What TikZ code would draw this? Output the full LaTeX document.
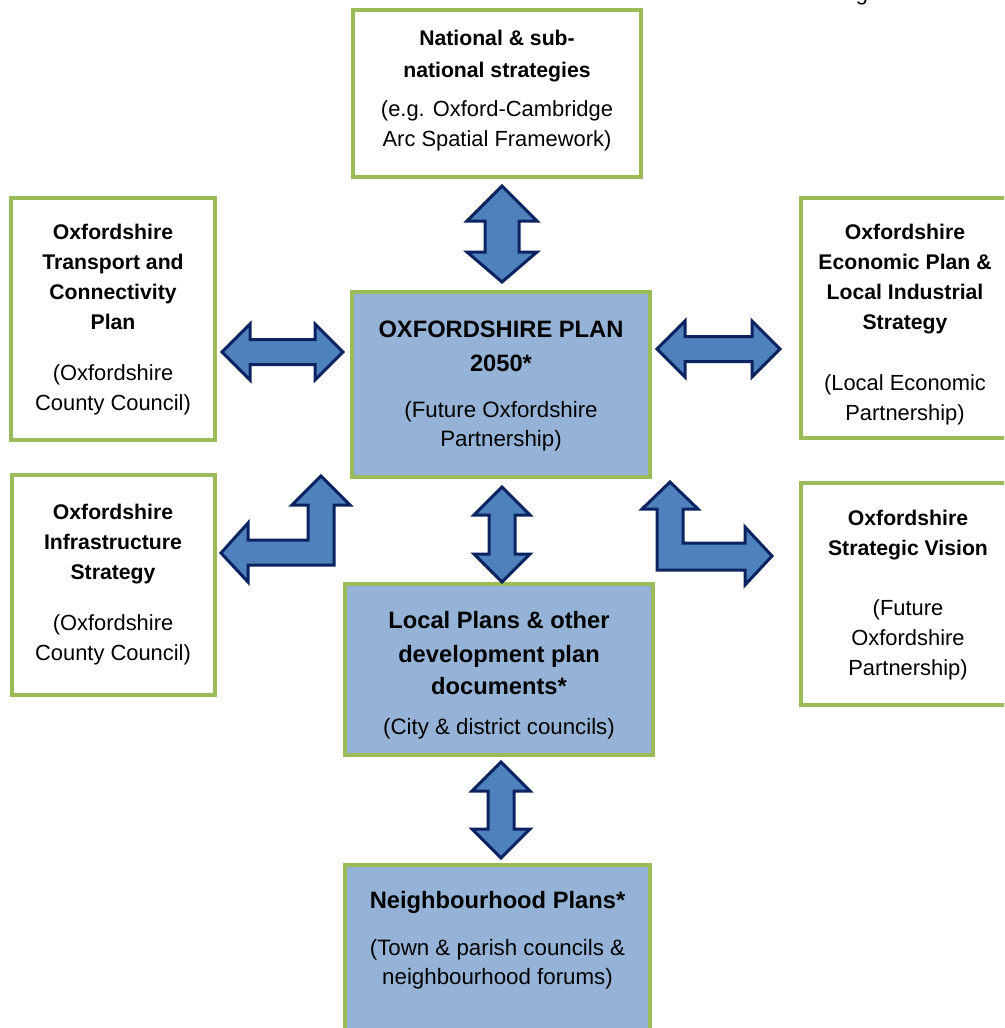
\documentclass[tikz,border=0pt]{standalone}
\usepackage{fontspec}
\setmainfont{Liberation Sans}
\definecolor{boxgreen}{HTML}{9BBB59}
\definecolor{boxblue}{HTML}{95B3D7}
\definecolor{arrowblue}{HTML}{4F81BD}
\definecolor{arrownavy}{HTML}{0B2361}
\tikzset{
  box/.style={draw=boxgreen, line width=3.5pt, fill=white, inner sep=0pt, outer sep=0pt},
  bluebox/.style={box, fill=boxblue},
  bt/.style={font=\fontsize{21.2}{25}\selectfont\bfseries, anchor=base, inner sep=0pt},
  rt/.style={font=\fontsize{21.9}{25}\selectfont, anchor=base, inner sep=0pt},
  cbt/.style={font=\fontsize{23.7}{27}\selectfont\bfseries, anchor=base, inner sep=0pt},
  crt/.style={font=\fontsize{22.3}{26}\selectfont, anchor=base, inner sep=0pt},
  blk/.style={fill=arrowblue, draw=arrownavy, line width=3pt, line join=miter},
}
\begin{document}
\begin{tikzpicture}[x=1pt, y=-1pt]
\useasboundingbox (0,0) rectangle (1004,1028);
\begin{scope}
\clip (0,0) rectangle (1004,1028);
% boxes
\node[box, minimum width=288pt, minimum height=167pt] (national) at (497,93.5) {};
\node[box, minimum width=204pt, minimum height=242pt] (transport) at (113,319) {};
\node[box, minimum width=209pt, minimum height=240pt] (economic) at (905.5,318) {};
\node[box, minimum width=203pt, minimum height=220pt] (infra) at (113.5,585) {};
\node[box, minimum width=213pt, minimum height=222pt] (vision) at (907.5,594) {};
\node[bluebox, minimum width=298pt, minimum height=185pt] (plan) at (501,384.5) {};
\node[bluebox, minimum width=308pt, minimum height=171pt] (local) at (499,669.5) {};
\node[bluebox, minimum width=305pt, minimum height=175pt] (neigh) at (497.5,952.5) {};
% cut-off heading fragment
\node[rt] (gfrag) at (862,0) {g};
\end{scope}

% National
\node[bt] (n1) at (497,45) {National \& sub-};
\node[bt] (n2) at (497,77) {national strategies};
\node[rt] (n3) at (497,116) {(e.g. Oxford-Cambridge};
\node[rt] (n4) at (497,146) {Arc Spatial Framework)};
% Transport
\node[bt] (t1) at (113,239) {Oxfordshire};
\node[bt] (t2) at (113,269) {Transport and};
\node[bt] (t3) at (113,299) {Connectivity};
\node[bt] (t4) at (113,329) {Plan};
\node[rt] (t5) at (113,380) {(Oxfordshire};
\node[rt] (t6) at (113,410) {County Council)};
% Economic
\node[bt] (e1) at (905,239) {Oxfordshire};
\node[bt] (e2) at (905,269) {Economic Plan \&};
\node[bt] (e3) at (905,299) {Local Industrial};
\node[bt] (e4) at (905,329) {Strategy};
\node[rt] (e5) at (905,390) {(Local Economic};
\node[rt] (e6) at (905,420) {Partnership)};
% Infrastructure
\node[bt] (i1) at (113,519) {Oxfordshire};
\node[bt] (i2) at (113,549) {Infrastructure};
\node[bt] (i3) at (113,579) {Strategy};
\node[rt] (i4) at (113,630) {(Oxfordshire};
\node[rt] (i5) at (113,660) {County Council)};
% Vision
\node[bt] (v1) at (908,525) {Oxfordshire};
\node[bt] (v2) at (908,555) {Strategic Vision};
\node[rt] (v3) at (908,615) {(Future};
\node[rt] (v4) at (908,645) {Oxfordshire};
\node[rt] (v5) at (908,675) {Partnership)};
% Plan 2050
\node[cbt] (p1) at (501,337) {OXFORDSHIRE PLAN};
\node[cbt] (p2) at (501,371) {2050*};
\node[crt] (p3) at (501,417) {(Future Oxfordshire};
\node[crt] (p4) at (501,446) {Partnership)};
% Local plans
\node[cbt] (l1) at (499,628) {Local Plans \& other};
\node[cbt] (l2) at (499,662) {development plan};
\node[cbt] (l3) at (499,694) {documents*};
\node[crt] (l4) at (499,734) {(City \& district councils)};
% Neighbourhood
\node[cbt] (b1) at (497.5,908) {Neighbourhood Plans*};
\node[crt] (b2) at (497.5,955) {(Town \& parish councils \&};
\node[crt] (b3) at (497.5,984) {neighbourhood forums)};

% block arrows
% national <-> plan
\draw[blk] (502,186) -- (537,221) -- (519,221) -- (519,252) -- (537,252) -- (502,282)
  -- (467,252) -- (485,252) -- (485,221) -- (467,221) -- cycle;
% transport <-> plan
\draw[blk] (222,352) -- (250,324) -- (250,339.5) -- (315,339.5) -- (315,324) -- (343,352)
  -- (315,380) -- (315,364.5) -- (250,364.5) -- (250,380) -- cycle;
% plan <-> economic
\draw[blk] (657,349) -- (685,321) -- (685,336.5) -- (752,336.5) -- (752,321) -- (780,349)
  -- (752,377) -- (752,361.5) -- (685,361.5) -- (685,377) -- cycle;
% plan <-> local
\draw[blk] (502,487) -- (530,515) -- (515,515) -- (515,554) -- (530,554) -- (502,582)
  -- (474,554) -- (489,554) -- (489,515) -- (474,515) -- cycle;
% local <-> neighbourhood
\draw[blk] (501,762) -- (530,791) -- (514,791) -- (514,829) -- (530,829) -- (501,858)
  -- (472,829) -- (488,829) -- (488,791) -- (472,791) -- cycle;
% plan -> infrastructure (L)
\draw[blk] (321,476) -- (350,505) -- (334,505) -- (334,565) -- (248,565) -- (248,582)
  -- (221,553) -- (248,523) -- (248,540) -- (308,540) -- (308,505) -- (292,505) -- cycle;
% plan -> vision (L)
\draw[blk] (670,482) -- (698,509) -- (683,509) -- (683,543) -- (745,543) -- (745,527)
  -- (772,556) -- (745,585) -- (745,570) -- (657,570) -- (657,509) -- (642,509) -- cycle;
\end{tikzpicture}
\end{document}
